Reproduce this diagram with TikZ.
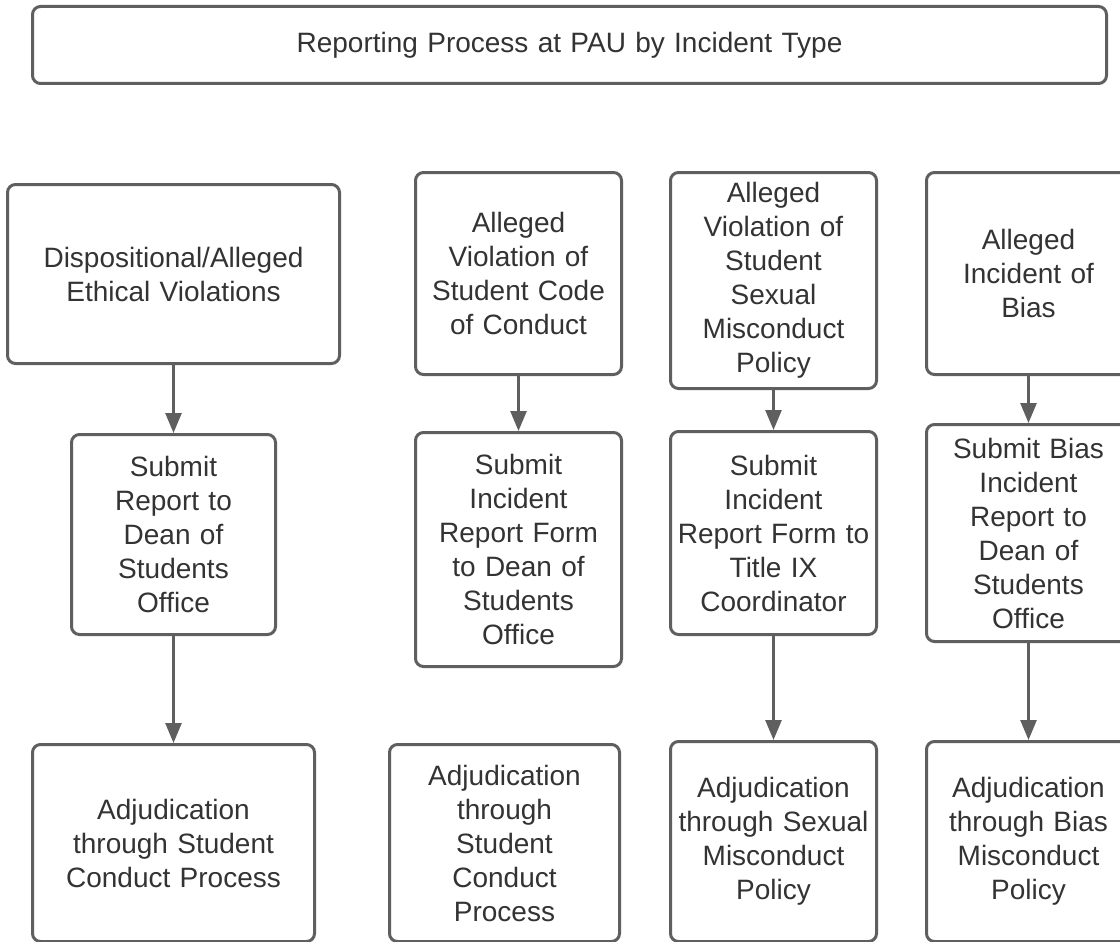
\documentclass[tikz,border=0pt]{standalone}
\usepackage{fontspec}
\setmainfont{Liberation Sans}
\usepackage{xcolor}
\usetikzlibrary{arrows.meta}
\definecolor{lineGray}{HTML}{5F5F5F}
\definecolor{textGray}{HTML}{333333}

\begin{document}
\begin{tikzpicture}[x=1pt, y=-1pt,
    box/.style={draw=lineGray, line width=3pt, rounded corners=8pt, fill=white,
        text=textGray, align=center, inner sep=0pt, anchor=north west,
        font=\fontsize{28}{34}\selectfont},
    flow/.style={draw=lineGray, line width=2.6pt, -{Triangle[width=16pt, length=20pt]}}]
    \clip (0,0) rectangle (1120,942);
    \fill[white] (0,0) rectangle (1120,942);
    \node[box, minimum width=1074pt, minimum height=77pt, text width=1074pt] (title) at (31,5)
        {Reporting Process at PAU by Incident Type};
    % dispositional / ethical
    \node[box, text width=332pt, minimum height=179pt] (ethTop) at (6,183)
        {Dispositional/Alleged\\Ethical Violations};
    \node[box, text width=204pt, minimum height=200pt] (ethMid) at (70,433)
        {Submit\\Report to\\Dean of\\Students\\Office};
    \node[box, text width=282pt, minimum height=197pt] (ethBot) at (31,743)
        {Adjudication\\through Student\\Conduct Process};
    % student code of conduct
    \node[box, text width=206pt, minimum height=202pt] (codeTop) at (414,171)
        {Alleged\\Violation of\\Student Code\\of Conduct};
    \node[box, text width=206pt, minimum height=234pt] (codeMid) at (414,431)
        {Submit\\Incident\\Report Form\\to Dean of\\Students\\Office};
    \node[box, text width=230pt, minimum height=197pt] (codeBot) at (388,743)
        {Adjudication\\through\\Student\\Conduct\\Process};
    % sexual misconduct
    \node[box, text width=206pt, minimum height=216pt] (sexTop) at (669,171)
        {Alleged\\Violation of\\Student\\Sexual\\Misconduct\\Policy};
    \node[box, text width=206pt, minimum height=203pt] (sexMid) at (669,430)
        {Submit\\Incident\\Report Form to\\Title IX\\Coordinator};
    \node[box, text width=206pt, minimum height=200pt] (sexBot) at (669,740)
        {Adjudication\\through Sexual\\Misconduct\\Policy};
    % bias
    \node[box, text width=204pt, minimum height=202pt] (biasTop) at (925,171)
        {Alleged\\Incident of\\Bias};
    \node[box, text width=204pt, minimum height=217pt] (biasMid) at (925,423)
        {Submit Bias\\Incident\\Report to\\Dean of\\Students\\Office};
    \node[box, text width=204pt, minimum height=200pt] (biasBot) at (925,740)
        {Adjudication\\through Bias\\Misconduct\\Policy};
    % arrows
    \draw[flow] (ethTop) -- (ethMid);
    \draw[flow] (ethMid) -- (ethBot);
    \draw[flow] (codeTop) -- (codeMid);
    \draw[flow] (sexTop) -- (sexMid);
    \draw[flow] (sexMid) -- (sexBot);
    \draw[flow] (biasTop) -- (biasMid);
    \draw[flow] (biasMid) -- (biasBot);
\end{tikzpicture}
\end{document}
